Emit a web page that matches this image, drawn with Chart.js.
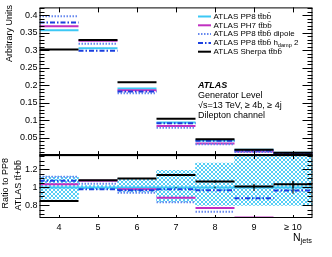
<!DOCTYPE html>
<html>
<head>
<meta charset="utf-8">
<script src="https://cdn.jsdelivr.net/npm/chart.js@4.4.0/dist/chart.umd.min.js"></script>
<style>
  html, body { margin: 0; padding: 0; background: #fff; }
</style>
</head>
<body>
<canvas id="Chart" width="332" height="257"></canvas>
<script>
/* N_jets bins */
const binCentres = [4, 5, 6, 7, 8, 9, 10];
const binLabels = ['4', '5', '6', '7', '8', '9', '\u2265 10'];

/* top panel, arbitrary units */
const pp8    = [0.357, 0.305, 0.190, 0.093, 0.042, 0.015, 0.0065];
const ph7    = [0.368, 0.327, 0.185, 0.083, 0.033, 0.010, 0.004];
const dipole = [0.397, 0.318, 0.177, 0.078, 0.031, 0.009, 0.0035];
const hdamp  = [0.379, 0.298, 0.182, 0.091, 0.041, 0.013, 0.006];
const sherpa = [0.302, 0.329, 0.208, 0.104, 0.045, 0.015, 0.007];

/* bottom panel, ratio to PP8 */
const ratioPp8    = [1, 1, 1, 1, 1, 1, 1];
const ratioPh7    = [1.035, 1.075, 0.98, 0.885, 0.77, 0.665, 0.55];
const ratioDipole = [1.12, 1.04, 0.94, 0.835, 0.73, 0.6, 0.5];
const ratioHdamp  = [1.075, 0.98, 0.97, 0.98, 0.97, 0.88, 0.965];
const ratioSherpa = [0.85, 1.08, 1.10, 1.14, 1.065, 1.01, 1.035];
const bandLow     = [0.87, 0.98, 0.95, 0.84, 0.80, 0.80, 0.80];
const bandHigh    = [1.12, 1.02, 1.10, 1.19, 1.27, 1.45, 1.45];
const sherpaErr   = [0, 0, 0, 0.01, 0.015, 0.02, 0.04];
const pp8Err      = [0, 0, 0, 0.005, 0.01, 0.04, 0.07];

/* axis ticks */
const topTicks = [0.05, 0.1, 0.15, 0.2, 0.25, 0.3, 0.35, 0.4];
const ratioTicks = [0.8, 1, 1.2];

const TOP_MAX = 0.422, R_MIN = 0.66, R_MAX = 1.36;
const FONT = '"Liberation Sans", Arial, sans-serif';

const cCyan = '#3cc8f5', cMag = '#c030c0', cDip = '#6688ee', cHd = '#1a3fe0', cBlk = '#000';

function binSegments(vals) {
    const pts = [];
    vals.forEach((v, i) => {
        pts.push({x: binCentres[i] - 0.5, y: v}, {x: binCentres[i] + 0.5, y: v}, {x: binCentres[i] + 0.5, y: null});
    });
    return pts;
}

function errSegments(vals, errs) {
    const pts = [];
    vals.forEach((v, i) => {
        if (!errs[i]) return;
        pts.push({x: binCentres[i], y: v - errs[i]}, {x: binCentres[i], y: v + errs[i]}, {x: binCentres[i], y: null});
    });
    return pts;
}

function histLine(label, vals, axis, color, dash, order) {
    return {
        type: 'line', label: label, data: binSegments(vals), yAxisID: axis,
        borderColor: color, borderWidth: 2, borderDash: dash, pointRadius: 0,
        spanGaps: false, tension: 0, fill: false, order: order,
        borderCapStyle: 'butt', inLegend: axis === 'y'
    };
}

function errLine(vals, errs, color) {
    return {
        type: 'line', data: errSegments(vals, errs), yAxisID: 'yr',
        borderColor: color, borderWidth: 1, pointRadius: 0, spanGaps: false, order: 0
    };
}

/* cross-hatch fill for the PP8 uncertainty band */
function hatch() {
    const pc = document.createElement('canvas');
    pc.width = 4; pc.height = 4;
    const g = pc.getContext('2d');
    g.fillStyle = '#fff';
    g.fillRect(0, 0, 4, 4);
    g.fillStyle = '#55cdf5';
    for (let i = 0; i < 4; i++) {
        g.fillRect(i, i, 1, 1);
        g.fillRect(3 - i, i, 1, 1);
    }
    return g.createPattern(pc, 'repeat');
}

function drawRich(ctx, text, x, y, size, align, style) {
    const parts = [];
    const re = /_\{([^}]*)\}/g;
    let last = 0, m;
    while ((m = re.exec(text))) {
        parts.push({t: text.slice(last, m.index)});
        parts.push({t: m[1], sub: true});
        last = re.lastIndex;
    }
    parts.push({t: text.slice(last)});
    let w = 0;
    parts.forEach(p => {
        ctx.font = (style || '') + ' ' + (p.sub ? size * 0.7 : size) + 'px ' + FONT;
        p.w = ctx.measureText(p.t).width;
        w += p.w;
    });
    let cx = align === 'right' ? x - w : x;
    ctx.textAlign = 'left';
    ctx.textBaseline = 'middle';
    parts.forEach(p => {
        ctx.font = (style || '') + ' ' + (p.sub ? size * 0.7 : size) + 'px ' + FONT;
        ctx.fillText(p.t, cx, p.sub ? y + size * 0.3 : y);
        cx += p.w;
    });
}

const atlasDecor = {
    id: 'atlasDecor',
    afterDatasetsDraw(chart) {
        const ctx = chart.ctx, a = chart.chartArea;
        const sx = chart.scales.x, yTop = chart.scales.y, yR = chart.scales.yr;
        ctx.save();
        ctx.strokeStyle = '#000';
        ctx.fillStyle = '#000';

        /* frames */
        ctx.lineWidth = 1;
        ctx.strokeRect(a.left + 0.5, yTop.top + 0.5, a.right - a.left - 1, yTop.bottom - yTop.top);
        ctx.strokeRect(a.left + 0.5, yR.top, a.right - a.left - 1, yR.bottom - yR.top - 0.5);
        ctx.lineWidth = 2;
        ctx.beginPath();
        ctx.moveTo(a.left, yTop.bottom); ctx.lineTo(a.right, yTop.bottom);
        ctx.stroke();

        /* y ticks, major and minor, on both sides */
        ctx.lineWidth = 1;
        const yTicks = (scale, majors, step, from, to) => {
            ctx.beginPath();
            for (let v = from; v <= to + 1e-9; v += step) {
                const p = Math.round(scale.getPixelForValue(v)) + 0.5;
                if (p < scale.top + 1 || p > scale.bottom - 1) continue;
                const major = majors.some(t => Math.abs(t - v) < 1e-6);
                const len = major ? 10 : 5;
                ctx.moveTo(a.left, p); ctx.lineTo(a.left + len, p);
                ctx.moveTo(a.right, p); ctx.lineTo(a.right - len, p);
            }
            ctx.stroke();
        };
        yTicks(yTop, topTicks, 0.01, 0, TOP_MAX);
        yTicks(yR, ratioTicks, 0.05, 0.7, R_MAX);

        /* x ticks at bin centres */
        ctx.beginPath();
        binCentres.forEach(c => {
            const p = Math.round(sx.getPixelForValue(c)) + 0.5;
            ctx.moveTo(p, yTop.top); ctx.lineTo(p, yTop.top + 5);
            ctx.moveTo(p, yTop.bottom - 4); ctx.lineTo(p, yTop.bottom + 4);
            ctx.moveTo(p, yR.bottom); ctx.lineTo(p, yR.bottom - 3);
        });
        ctx.stroke();

        /* legend */
        let ly = 16.5;
        chart.data.datasets.filter(d => d.inLegend).sort((p, q) => p.legendRow - q.legendRow).forEach(d => {
            ctx.save();
            ctx.strokeStyle = d.borderColor;
            ctx.lineWidth = 2;
            ctx.setLineDash(d.borderDash || []);
            ctx.beginPath();
            ctx.moveTo(198, ly); ctx.lineTo(211, ly);
            ctx.stroke();
            ctx.restore();
            drawRich(ctx, d.label, 213.5, ly, 8);
            ly += 8.8;
        });

        /* ATLAS block */
        drawRich(ctx, 'ATLAS', 198, 86, 9, 'left', 'italic bold');
        drawRich(ctx, 'Generator Level', 198, 96, 9);
        drawRich(ctx, '\u221As=13 TeV, \u2265 4b, \u2265 4j', 198, 105.7, 9);
        drawRich(ctx, 'Dilepton channel', 198, 115.5, 9);

        /* axis titles */
        drawRich(ctx, 'N_{jets}', 312, 238, 10.5, 'right');
        const vTitle = (text, x, y) => {
            ctx.save();
            ctx.translate(x, y);
            ctx.rotate(-Math.PI / 2);
            drawRich(ctx, text, 0, 0, 9, 'right');
            ctx.restore();
        };
        vTitle('Arbitrary Units', 10, 5);
        vTitle('Ratio to PP8', 6, 158);
        vTitle('ATLAS tt\u0304+bb\u0304', 18.5, 160);
        ctx.restore();
    }
};

const datasets = [
    {
        type: 'bar', label: 'band', yAxisID: 'yr', order: 20,
        data: binCentres.map((c, i) => ({x: c, y: [bandLow[i], Math.min(bandHigh[i], R_MAX)]})),
        backgroundColor: hatch(), borderWidth: 0, barPercentage: 1, categoryPercentage: 1, grouped: false
    },
    histLine('ATLAS PP8 tt\u0304bb\u0304', pp8, 'y', cCyan, [], 6),
    histLine('ATLAS PH7 tt\u0304bb\u0304', ph7, 'y', cMag, [], 5),
    histLine('ATLAS PP8 tt\u0304bb\u0304 dipole', dipole, 'y', cDip, [1.5, 1.5], 4),
    histLine('ATLAS PP8 tt\u0304bb\u0304 h_{damp} 2', hdamp, 'y', cHd, [5, 2, 1.5, 2], 3),
    histLine('ATLAS Sherpa tt\u0304bb\u0304', sherpa, 'y', cBlk, [], 2),
    histLine('', ratioPp8, 'yr', cCyan, [], 6),
    histLine('', ratioPh7, 'yr', cMag, [], 5),
    histLine('', ratioDipole, 'yr', cDip, [1.5, 1.5], 4),
    histLine('', ratioHdamp, 'yr', cHd, [5, 2, 1.5, 2], 3),
    histLine('', ratioSherpa, 'yr', cBlk, [], 2),
    errLine(ratioSherpa, sherpaErr, cBlk),
    errLine(ratioPp8, pp8Err, cBlk)
];
datasets.forEach((d, i) => { d.legendRow = i; });

const ctx = document.getElementById('Chart').getContext('2d');
const myChart = new Chart(ctx, {
    type: 'line',
    data: { datasets: datasets },
    options: {
        responsive: false,
        animation: false,
        devicePixelRatio: 1,
        layout: { padding: { top: 7, right: 19.5, left: 0, bottom: 0 } },
        plugins: { legend: { display: false }, tooltip: { enabled: false } },
        scales: {
            x: {
                type: 'linear', min: 3.5, max: 10.5, offset: false,
                grid: { display: false, drawTicks: false, offset: false }, border: { display: false },
                afterBuildTicks: s => { s.ticks = binCentres.map(v => ({value: v})); },
                afterFit: s => { s.height = 39; },
                ticks: {
                    autoSkip: false, maxRotation: 0, padding: 4, color: '#000',
                    font: { family: FONT, size: 9 },
                    callback: v => binLabels[binCentres.indexOf(v)]
                }
            },
            y: {
                stack: 'panels', stackWeight: 148, weight: 1, position: 'left',
                min: 0, max: TOP_MAX,
                grid: { display: false, drawTicks: false }, border: { display: false },
                afterBuildTicks: s => { s.ticks = topTicks.map(v => ({value: v})); },
                afterFit: s => { s.width = 39.5; },
                ticks: {
                    autoSkip: false, padding: 2, color: '#000',
                    font: { family: FONT, size: 9 },
                    callback: v => String(+v.toFixed(2))
                }
            },
            yr: {
                stack: 'panels', stackWeight: 63, weight: 0, position: 'left',
                min: R_MIN, max: R_MAX,
                grid: { display: false, drawTicks: false }, border: { display: false },
                afterBuildTicks: s => { s.ticks = ratioTicks.map(v => ({value: v})); },
                afterFit: s => { s.width = 39.5; },
                ticks: {
                    autoSkip: false, padding: 2, color: '#000',
                    font: { family: FONT, size: 9 },
                    callback: v => String(+v.toFixed(1))
                }
            }
        }
    },
    plugins: [atlasDecor]
});
</script>
</body>
</html>
